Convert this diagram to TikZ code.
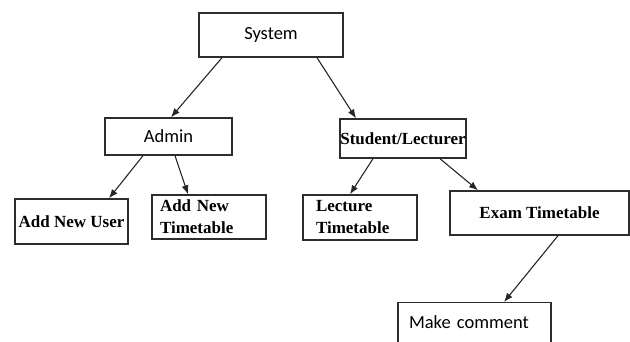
\documentclass[tikz,border=0pt]{standalone}
\usepackage{fontspec}
\setmainfont{Liberation Serif}
\newfontfamily\calfont{Carlito}
\usetikzlibrary{calc,arrows.meta}
\definecolor{boxgray}{RGB}{45,45,45}

\begin{document}
\begin{tikzpicture}[x=1pt,y=1pt,
		sansbox/.style={draw=boxgray,line width=1.4pt,inner sep=0pt,font=\calfont\fontsize{18.5}{22}\selectfont},
		serifbox/.style={draw=boxgray,line width=1.4pt,inner sep=0pt,font=\bfseries\fontsize{17}{22}\selectfont},
		link/.style={-{Latex[length=9pt,width=7pt]},line width=1.1pt,black!85}]
		\useasboundingbox (0,0) rectangle (630,341);
		\node (Sys) at (271,306) [sansbox,minimum width=144,minimum height=44] {System};
		\node (Adm) at (168.5,204.5) [sansbox,minimum width=127,minimum height=37] {Admin};
		\node (Stu) at (403,202.5) [serifbox,minimum width=126,minimum height=39] {Student/Lecturer};
		\node (Usr) at (71.5,119.5) [serifbox,minimum width=113,minimum height=45] {Add New User};
		\node (Tt) at (209,124) [serifbox,inner xsep=8,text width=98,align=left,minimum height=44] {Add New\\Timetable};
		\node (Lec) at (360,123.5) [serifbox,inner xsep=13,text width=88,align=left,minimum height=45] {Lecture\\Timetable};
		\node (Exam) at (539.5,128) [serifbox,minimum width=179,minimum height=44] {Exam Timetable};
		\node (Cmt) at (474.5,39) [sansbox,anchor=north,inner xsep=11,text width=131,align=left,text height=26,text depth=20] {Make comment};
		\draw[link] ($(Sys.south)+(-49,0)$) -- ($(Adm.north)+(2.5,0)$);
		\draw[link] ($(Sys.south)+(46,0)$) -- ($(Stu.north)+(-47,0)$);
		\draw[link] ($(Adm.south)+(-25.5,0)$) -- ($(Usr.north)+(37.5,0)$);
		\draw[link] ($(Adm.south)+(6.5,0)$) -- ($(Tt.north)+(-21,0)$);
		\draw[link] ($(Stu.south)+(-30,0)$) -- ($(Lec.north)+(-10,0)$);
		\draw[link] ($(Stu.south)+(37,0)$) -- ($(Exam.north)+(-61.5,0)$);
		\draw[link] ($(Exam.south)+(18.5,0)$) -- ($(Cmt.north)+(29.5,0)$);
	\end{tikzpicture}
\end{document}
